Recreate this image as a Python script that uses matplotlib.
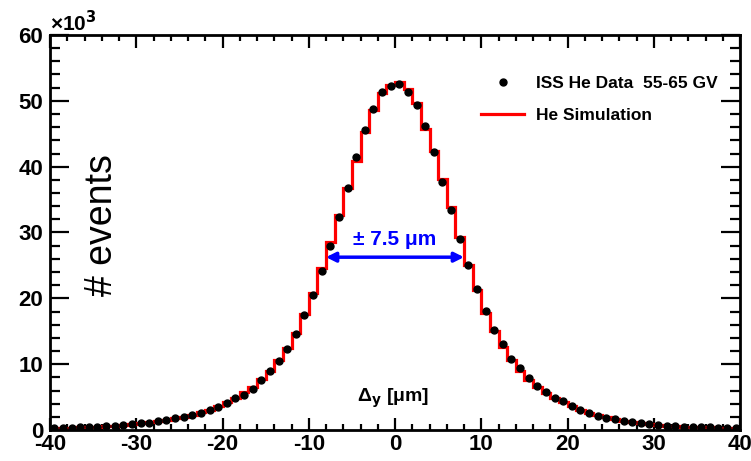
import matplotlib
matplotlib.use("Agg")
import matplotlib.pyplot as plt
import numpy as np
from matplotlib.ticker import MultipleLocator

plt.rcParams["axes.unicode_minus"] = False

# bin layout (um) and counts in thousands
bin_edges = np.arange(-40, 41, 1)
bin_centers = bin_edges[:-1] + 0.5

data_counts = [
    0.30, 0.32, 0.35, 0.40, 0.45, 0.50, 0.56, 0.65, 0.76, 0.86,
    1.01, 1.11, 1.32, 1.57, 1.78, 2.00, 2.30, 2.60, 3.00, 3.50,
    4.15, 4.80, 5.30, 6.20, 7.60, 8.90, 10.5, 12.3, 14.6, 17.5,
    20.5, 24.2, 28.0, 32.4, 36.8, 41.4, 45.6, 48.7, 51.4, 52.2,
    52.5, 51.3, 49.4, 46.2, 42.2, 37.6, 33.4, 29.0, 25.0, 21.4,
    18.1, 15.2, 13.0, 10.8, 9.40, 7.95, 6.70, 5.70, 4.90, 4.40,
    3.65, 3.10, 2.60, 2.20, 1.87, 1.62, 1.42, 1.20, 1.00, 0.86,
    0.76, 0.65, 0.56, 0.50, 0.45, 0.42, 0.38, 0.35, 0.32, 0.30,
]

sim_counts = [
    0.32, 0.34, 0.37, 0.41, 0.46, 0.52, 0.58, 0.66, 0.77, 0.88,
    1.02, 1.15, 1.33, 1.55, 1.80, 2.05, 2.35, 2.70, 3.10, 3.60,
    4.20, 4.90, 5.70, 6.60, 7.70, 9.00, 10.6, 12.5, 14.8, 17.6,
    20.8, 24.6, 28.6, 32.7, 36.8, 40.9, 45.2, 48.6, 51.2, 52.4,
    52.8, 51.8, 49.7, 45.7, 42.4, 38.2, 33.9, 29.3, 25.1, 21.3,
    17.8, 15.0, 12.6, 10.6, 9.00, 7.60, 6.50, 5.60, 4.80, 4.20,
    3.60, 3.10, 2.65, 2.25, 1.90, 1.65, 1.42, 1.22, 1.05, 0.90,
    0.78, 0.67, 0.58, 0.51, 0.46, 0.42, 0.38, 0.35, 0.32, 0.30,
]

fwhm_edges = (-8, 8)
fwhm_label = "± 7.5 μm"

bold_font = ["Liberation Sans", "DejaVu Sans"]

fig = plt.figure(figsize=(7.51, 4.61), dpi=100)
ax = fig.add_axes([50 / 751, 1 - 430 / 461, 690 / 751, 395 / 461])

ax.stairs(sim_counts, bin_edges, color="red", lw=2.3, label="He Simulation", zorder=2)
ax.plot(bin_centers, data_counts, "o", color="black", ms=5, ls="none",
        label="ISS He Data  55-65 GV", zorder=3)

ax.set_xlim(-40, 40)
ax.set_ylim(0, 60)

# ROOT-like frame and ticks
for sp in ax.spines.values():
    sp.set_linewidth(2)
ax.xaxis.set_major_locator(MultipleLocator(10))
ax.xaxis.set_minor_locator(MultipleLocator(2))
ax.yaxis.set_major_locator(MultipleLocator(10))
ax.yaxis.set_minor_locator(MultipleLocator(2))
ax.tick_params(which="both", direction="in", top=True, right=True, width=1.6)
ax.tick_params(axis="x", which="major", length=9, pad=3)
ax.tick_params(axis="x", which="minor", length=4.5)
ax.tick_params(axis="y", which="major", length=14, pad=5)
ax.tick_params(axis="y", which="minor", length=7)
for lab in ax.get_xticklabels() + ax.get_yticklabels():
    lab.set_family(bold_font)
    lab.set_fontweight("bold")
    lab.set_fontsize(16)
ax.get_yticklabels()[0].set_va("bottom")

ax.text(0.0, 1.0, "×10$^{\\mathbf{3}}$", transform=ax.transAxes, ha="left", va="bottom",
        family=bold_font, fontweight="bold", fontsize=15)

# axis titles inside frame
ax.text(0.075, 0.519, "# events", transform=ax.transAxes, rotation=90, ha="center", va="center",
        family=["Liberation Sans", "DejaVu Sans"], fontsize=27)
ax.text(0.497, 0.08, "Δ$_\\mathbf{y}$ [μm]", transform=ax.transAxes, ha="center",
        va="center", family=bold_font, fontweight="bold", fontsize=14)

# FWHM arrow
half_max = max(data_counts) / 2
ax.annotate("", xy=(fwhm_edges[0], half_max), xytext=(fwhm_edges[1], half_max),
            arrowprops=dict(arrowstyle="<|-|>", color="blue", lw=2.5, mutation_scale=14,
                            shrinkA=0, shrinkB=0))
ax.text(0, half_max + 1.3, fwhm_label, ha="center", va="bottom", color="blue",
        family=bold_font, fontweight="bold", fontsize=15)

handles, labels = ax.get_legend_handles_labels()
leg = ax.legend(handles[::-1], labels[::-1], loc="upper right", bbox_to_anchor=(0.99, 0.937),
                frameon=False, numpoints=1, handlelength=2.5, handletextpad=0.65,
                labelspacing=1.0, prop={"family": bold_font, "weight": "bold", "size": 12.5})

fig.savefig("out.png", dpi=100)
